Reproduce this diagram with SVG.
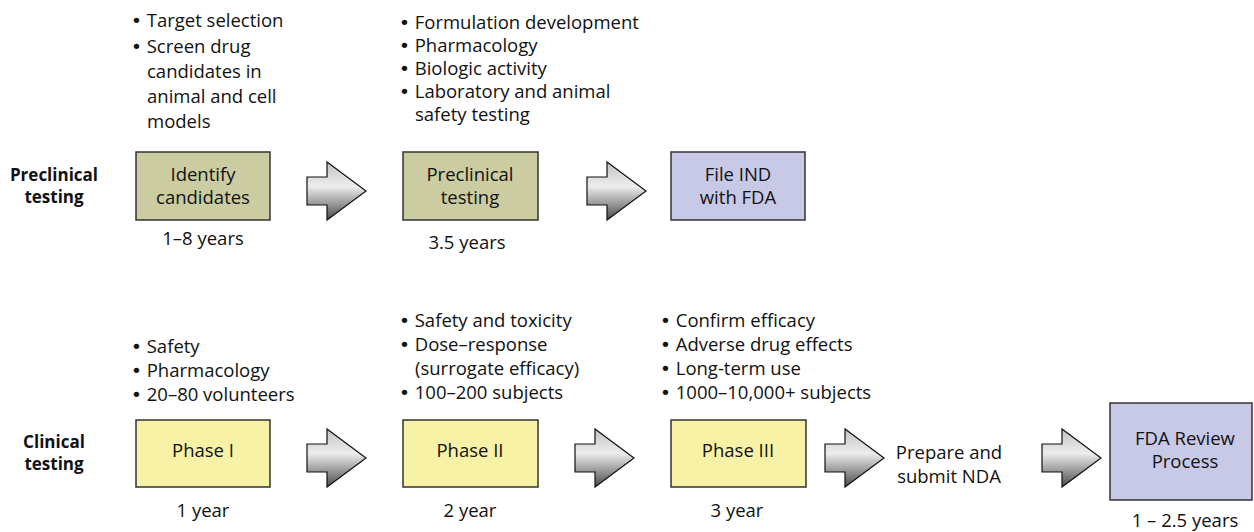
<svg xmlns="http://www.w3.org/2000/svg" width="1254" height="532" viewBox="0 0 1254 532">
<style>
text{font-family:"Open Sans","Noto Sans","DejaVu Sans",sans-serif;font-size:18.5px;fill:#111}
.bl{font-family:"DejaVu Sans",sans-serif}
.b{font-weight:bold;text-anchor:middle;font-size:17px}
.c{text-anchor:middle}
.box{stroke:#333;stroke-width:1.5}
.olive{fill:#cbcca1}
.lav{fill:#c8c9e7}
.yel{fill:#f7f2a6}
.arr{fill:url(#g);stroke:#111;stroke-width:1.2;stroke-linejoin:miter}
</style>
<defs>
<linearGradient id="g" x1="0" y1="0" x2="0" y2="1">
<stop offset="0" stop-color="#c2c2c2"/>
<stop offset="0.42" stop-color="#ededed"/>
<stop offset="1" stop-color="#4a4a4a"/>
</linearGradient>
<path id="arrow" class="arr" d="M0,-14 L20,-14 L20,-29 L59,0 L20,29 L20,14 L0,14 Z"/>
</defs>
<rect width="1254" height="532" fill="#fff"/>

<g id="row-labels">
<text class="b" x="54" y="181">Preclinical<tspan x="54" dy="22">testing</tspan></text>
<text class="b" x="54" y="448">Clinical<tspan x="54" dy="22">testing</tspan></text>
</g>

<g id="connectors">
<use href="#arrow" x="307" y="191"/>
<use href="#arrow" x="587" y="191"/>
<use href="#arrow" x="307" y="458"/>
<use href="#arrow" x="575" y="458"/>
<use href="#arrow" x="825" y="458"/>
<use href="#arrow" x="1042" y="458"/>
</g>

<g id="identify-candidates">
<text x="131" y="27"><tspan class="bl">•</tspan> Target selection<tspan x="131" dy="26"><tspan class="bl">•</tspan> Screen drug</tspan><tspan x="147" dy="25">candidates in</tspan><tspan x="147" dy="25">animal and cell</tspan><tspan x="147" dy="25">models</tspan></text>
<rect class="box olive" x="136" y="152" width="134" height="68"/>
<text class="c" x="203" y="180.5">Identify<tspan x="203" dy="23">candidates</tspan></text>
<text class="c" x="203" y="245">1–8 years</text>
</g>

<g id="preclinical-testing">
<text x="399" y="29"><tspan class="bl">•</tspan> Formulation development<tspan x="399" dy="23"><tspan class="bl">•</tspan> Pharmacology</tspan><tspan x="399" dy="23"><tspan class="bl">•</tspan> Biologic activity</tspan><tspan x="399" dy="23"><tspan class="bl">•</tspan> Laboratory and animal</tspan><tspan x="415" dy="23">safety testing</tspan></text>
<rect class="box olive" x="403" y="152" width="135" height="68"/>
<text class="c" x="470" y="180.5">Preclinical<tspan x="470" dy="23">testing</tspan></text>
<text class="c" x="467" y="249">3.5 years</text>
</g>

<g id="file-ind">
<rect class="box lav" x="671" y="152" width="134" height="68"/>
<text class="c" x="738" y="180.5">File IND<tspan x="738" dy="23">with FDA</tspan></text>
</g>

<g id="phase-1">
<text x="131" y="353"><tspan class="bl">•</tspan> Safety<tspan x="131" dy="24"><tspan class="bl">•</tspan> Pharmacology</tspan><tspan x="131" dy="24"><tspan class="bl">•</tspan> 20–80 volunteers</tspan></text>
<rect class="box yel" x="136" y="420" width="134" height="67"/>
<text class="c" x="203" y="457">Phase I</text>
<text class="c" x="203" y="517">1 year</text>
</g>

<g id="phase-2">
<text x="399" y="327"><tspan class="bl">•</tspan> Safety and toxicity<tspan x="399" dy="24"><tspan class="bl">•</tspan> Dose–response</tspan><tspan x="415" dy="24">(surrogate efficacy)</tspan><tspan x="399" dy="24"><tspan class="bl">•</tspan> 100–200 subjects</tspan></text>
<rect class="box yel" x="403" y="420" width="135" height="67"/>
<text class="c" x="470" y="457">Phase II</text>
<text class="c" x="470" y="517">2 year</text>
</g>

<g id="phase-3">
<text x="660" y="327"><tspan class="bl">•</tspan> Confirm efficacy<tspan x="660" dy="24"><tspan class="bl">•</tspan> Adverse drug effects</tspan><tspan x="660" dy="24"><tspan class="bl">•</tspan> Long-term use</tspan><tspan x="660" dy="24"><tspan class="bl">•</tspan> 1000–10,000+ subjects</tspan></text>
<rect class="box yel" x="671" y="420" width="135" height="67"/>
<text class="c" x="738" y="457">Phase III</text>
<text class="c" x="737" y="517">3 year</text>
</g>

<g id="submit-nda">
<text class="c" x="949" y="459">Prepare and<tspan x="949" dy="24">submit NDA</tspan></text>
</g>

<g id="fda-review">
<rect class="box lav" x="1110" y="403" width="142" height="97"/>
<text class="c" x="1185" y="444.5">FDA Review<tspan x="1185" dy="23">Process</tspan></text>
<text class="c" x="1185" y="527">1 – 2.5 years</text>
</g>
</svg>
